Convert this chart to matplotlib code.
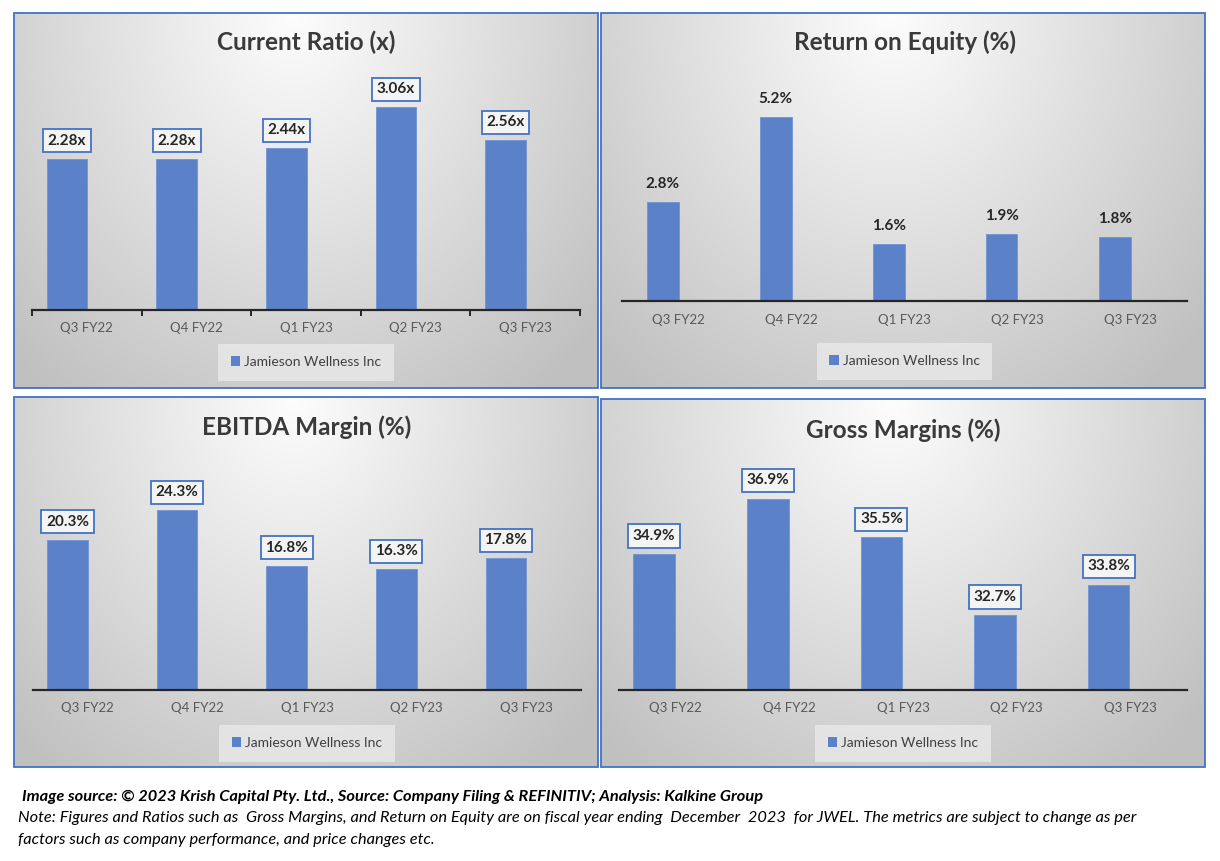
import numpy as np
import matplotlib
matplotlib.use("Agg")
import matplotlib.pyplot as plt
from matplotlib.patches import Rectangle, Patch

plt.rcParams['font.family'] = ['Lato', 'DejaVu Sans']

W, H = 1220, 861

quarters = ["Q3 FY22", "Q4 FY22", "Q1 FY23", "Q2 FY23", "Q3 FY23"]
current_ratio = [2.28, 2.28, 2.44, 3.06, 2.56]
roe = [2.8, 5.2, 1.6, 1.9, 1.8]
ebitda_margin = [20.3, 24.3, 16.8, 16.3, 17.8]
gross_margin = [34.9, 36.9, 35.5, 32.7, 33.8]
series_name = "Jamieson Wellness Inc"

BLUE = '#5B82C9'
EDGE = '#4472C4'


def rect(x0, y0, x1, y1):
    return [x0 / W, 1 - y1 / H, (x1 - x0) / W, (y1 - y0) / H]


def gradient_panel(fig, box):
    bg = fig.add_axes(rect(*box))
    ny, nx = 200, 300
    xx, yy = np.meshgrid(np.linspace(0, 1, nx), np.linspace(0, 1, ny))
    d = np.sqrt(((xx - 0.48) / 0.55) ** 2 + (yy / 1.0) ** 2)
    val = np.clip(253 - 48 * d, 192, 255) / 255.0
    img = np.dstack([val, val, val])
    bg.imshow(img, extent=[0, 1, 0, 1], aspect='auto', origin='upper')
    bg.set_xlim(0, 1)
    bg.set_ylim(0, 1)
    bg.axis('off')
    fig.patches.append(Rectangle((box[0] / W, 1 - box[3] / H), (box[2] - box[0]) / W,
                                 (box[3] - box[1]) / H, transform=fig.transFigure,
                                 fill=False, edgecolor=EDGE, linewidth=1.3, zorder=5))


def panel(fig, box, plot, title, title_y, values, ylim, fmt, offset, width,
          boxed, ticks, legend_y):
    gradient_panel(fig, box)
    ax = fig.add_axes(rect(*plot))
    ax.patch.set_alpha(0)
    x = np.arange(len(values))
    ax.bar(x + offset, [v - ylim[0] for v in values], width, bottom=ylim[0],
           color=BLUE, edgecolor='#6f93d4', linewidth=0.6, zorder=2)
    ax.set_xlim(-0.5, len(values) - 0.5)
    ax.set_ylim(*ylim)
    for s in ['top', 'right', 'left']:
        ax.spines[s].set_visible(False)
    ax.spines['bottom'].set_color('#262626')
    ax.spines['bottom'].set_linewidth(1.6)
    ax.set_yticks([])
    ax.set_xticks(x)
    ax.set_xticklabels(quarters, fontsize=9.5, color='#595959')
    ax.tick_params(axis='x', length=0, pad=9)
    if ticks:
        ax.set_xticks(np.arange(len(values) + 1) - 0.5, minor=True)
        ax.tick_params(axis='x', which='minor', length=4, width=1.4, color='#262626')
    for xi, v in zip(x, values):
        bbox = None
        if boxed:
            bbox = dict(boxstyle='square,pad=0.3', facecolor='#f4f4f4',
                        edgecolor=EDGE, linewidth=1.3)
        ax.annotate(fmt.format(v), (xi + offset, v), xytext=(0, 13),
                    textcoords='offset points', ha='center', va='center',
                    fontsize=11, fontweight='bold', color='#262626', bbox=bbox)
    cx = (plot[0] + plot[2]) / 2
    fig.text(cx / W, 1 - title_y / H, title, ha='center', va='center',
             fontsize=17.5, fontweight='bold', color='#3a3a3a')
    leg = ax.legend([Patch(facecolor=BLUE)], [series_name], loc='center',
                    bbox_to_anchor=(cx / W, 1 - legend_y / H),
                    bbox_transform=fig.transFigure, fontsize=10, frameon=True,
                    handlelength=0.7, handleheight=0.7, handletextpad=0.3,
                    borderpad=0.9, borderaxespad=0, fancybox=False)
    leg.get_frame().set_facecolor('#e9e9e9')
    leg.get_frame().set_edgecolor('none')
    leg.get_frame().set_alpha(0.8)
    for t in leg.get_texts():
        t.set_color('#404040')
    return ax


fig = plt.figure(figsize=(W / 100, H / 100), dpi=100)
fig.patch.set_facecolor('white')

panel(fig, (14, 13, 598, 388), (32, 78, 580, 310), "Current Ratio (x)", 42,
      current_ratio, (0, 3.5), "{:.2f}x", -0.18, 0.37, True, True, 362)
panel(fig, (601, 13, 1205, 388), (622, 89, 1187, 301), "Return on Equity (%)", 42,
      roe, (0, 6), "{:.1f}%", -0.14, 0.28, False, False, 361)
panel(fig, (14, 397, 598, 767), (33, 468, 581, 690), "EBITDA Margin (%)", 427,
      ebitda_margin, (0, 30), "{:.1f}%", -0.185, 0.37, True, False, 743)
panel(fig, (601, 399, 1205, 767), (619, 468, 1187, 690), "Gross Margins (%)", 430,
      gross_margin, (30, 38), "{:.1f}%", -0.19, 0.365, True, False, 743)

fig.text(22 / W, 1 - 797 / H,
         "Image source: \u00a9 2023 Krish Capital Pty. Ltd., Source: Company Filing & REFINITIV; Analysis: Kalkine Group",
         fontsize=11.8, fontweight='bold', style='italic', va='center', color='black')
fig.text(18 / W, 1 - 818 / H,
         "Note: Figures and Ratios such as  Gross Margins, and Return on Equity are on fiscal year ending  December  2023  for JWEL. The metrics are subject to change as per",
         fontsize=11.8, style='italic', va='center', color='black')
fig.text(18 / W, 1 - 840 / H,
         "factors such as company performance, and price changes etc.",
         fontsize=11.8, style='italic', va='center', color='black')

fig.savefig("out.png", dpi=100)
